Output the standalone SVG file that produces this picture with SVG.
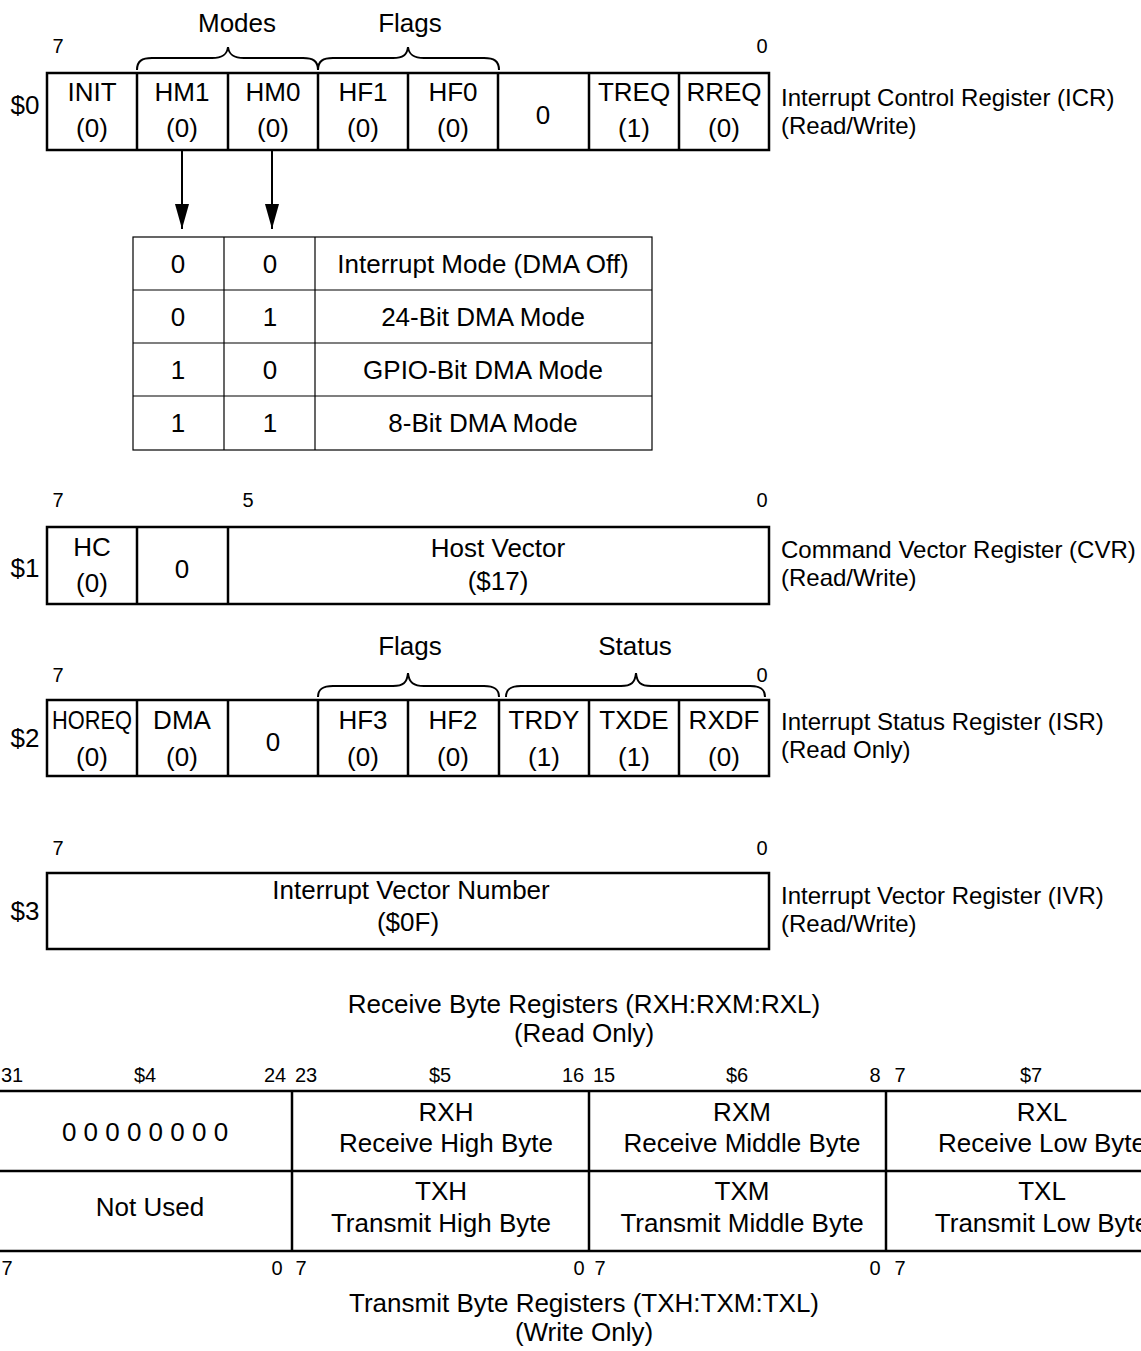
<svg xmlns="http://www.w3.org/2000/svg" width="1141" height="1351" viewBox="0 0 1141 1351">
<defs>
<style>
text{font-family:"Liberation Sans",Arial,sans-serif;fill:#000}
.c{font-size:26px;text-anchor:middle}
.b{font-size:20px;text-anchor:middle}
.l{font-size:24px}
.reg{fill:#fff;stroke:#000;stroke-width:2.5}
.div{stroke:#000;stroke-width:2.5}
.tb{fill:none;stroke:#000;stroke-width:1.2}
.brace{fill:none;stroke:#000;stroke-width:2}
.conn{stroke:#000;stroke-width:2;fill:none}
</style>
<marker id="ah" markerWidth="25" markerHeight="14" refX="25" refY="7" orient="auto" markerUnits="userSpaceOnUse" viewBox="0 0 25 14">
<path d="M0,0 L25,7 L0,14 Z" fill="#000"/>
</marker>
</defs>
<rect width="1141" height="1351" fill="#fff"/>

<!-- ICR -->
<g id="icr">
<text class="c" x="237" y="32">Modes</text>
<text class="c" x="410" y="32">Flags</text>
<path class="brace" d="M137,70 C137,61 142,58 152,58 L212,58 C222,58 227,55 228,47 C229,55 234,58 244,58 L303,58 C313,58 318,61 318,70"/>
<path class="brace" d="M318,70 C318,61 323,58 333,58 L393,58 C403,58 407,55 408,47 C409,55 414,58 424,58 L484,58 C494,58 499,61 499,70"/>
<text class="b" x="58" y="53">7</text>
<text class="b" x="762" y="53">0</text>
<text class="c" x="25" y="114">$0</text>
<rect class="reg" x="47" y="73" width="722" height="77"/>
<line class="div" x1="137" y1="73" x2="137" y2="150"/>
<line class="div" x1="228" y1="73" x2="228" y2="150"/>
<line class="div" x1="318" y1="73" x2="318" y2="150"/>
<line class="div" x1="408" y1="73" x2="408" y2="150"/>
<line class="div" x1="498" y1="73" x2="498" y2="150"/>
<line class="div" x1="589" y1="73" x2="589" y2="150"/>
<line class="div" x1="679" y1="73" x2="679" y2="150"/>
<text class="c" x="92" y="101">INIT</text><text class="c" x="92" y="137">(0)</text>
<text class="c" x="182" y="101">HM1</text><text class="c" x="182" y="137">(0)</text>
<text class="c" x="273" y="101">HM0</text><text class="c" x="273" y="137">(0)</text>
<text class="c" x="363" y="101">HF1</text><text class="c" x="363" y="137">(0)</text>
<text class="c" x="453" y="101">HF0</text><text class="c" x="453" y="137">(0)</text>
<text class="c" x="543" y="124">0</text>
<text class="c" x="634" y="101">TREQ</text><text class="c" x="634" y="137">(1)</text>
<text class="c" x="724" y="101">RREQ</text><text class="c" x="724" y="137">(0)</text>
<text class="l" x="781" y="106">Interrupt Control Register (ICR)</text>
<text class="l" x="781" y="134">(Read/Write)</text>
</g>

<!-- Mode table -->
<g id="mode-table">
<rect class="tb" x="133" y="237" width="519" height="213"/>
<line class="tb" x1="224" y1="237" x2="224" y2="450"/>
<line class="tb" x1="315" y1="237" x2="315" y2="450"/>
<line class="tb" x1="133" y1="290" x2="652" y2="290"/>
<line class="tb" x1="133" y1="343" x2="652" y2="343"/>
<line class="tb" x1="133" y1="396" x2="652" y2="396"/>
<text class="c" x="178" y="273">0</text><text class="c" x="270" y="273">0</text><text class="c" x="483" y="273">Interrupt Mode (DMA Off)</text>
<text class="c" x="178" y="326">0</text><text class="c" x="270" y="326">1</text><text class="c" x="483" y="326">24-Bit DMA Mode</text>
<text class="c" x="178" y="379">1</text><text class="c" x="270" y="379">0</text><text class="c" x="483" y="379">GPIO-Bit DMA Mode</text>
<text class="c" x="178" y="432">1</text><text class="c" x="270" y="432">1</text><text class="c" x="483" y="432">8-Bit DMA Mode</text>
</g>

<!-- CVR -->
<g id="cvr">
<text class="b" x="58" y="507">7</text>
<text class="b" x="248" y="507">5</text>
<text class="b" x="762" y="507">0</text>
<text class="c" x="25" y="577">$1</text>
<rect class="reg" x="47" y="527" width="722" height="77"/>
<line class="div" x1="137" y1="527" x2="137" y2="604"/>
<line class="div" x1="228" y1="527" x2="228" y2="604"/>
<text class="c" x="92" y="556">HC</text><text class="c" x="92" y="592">(0)</text>
<text class="c" x="182" y="578">0</text>
<text class="c" x="498" y="557">Host Vector</text><text class="c" x="498" y="590">($17)</text>
<text class="l" x="781" y="558">Command Vector Register (CVR)</text>
<text class="l" x="781" y="586">(Read/Write)</text>
</g>

<!-- ISR -->
<g id="isr">
<text class="c" x="410" y="655">Flags</text>
<text class="c" x="635" y="655">Status</text>
<path class="brace" d="M318,697 C318,689 323,686 333,686 L393,686 C403,686 407,683 408,673 C409,683 414,686 424,686 L484,686 C494,686 499,689 499,697"/>
<path class="brace" d="M506,697 C506,689 511,686 521,686 L621,686 C631,686 635,683 636,673 C637,683 641,686 651,686 L750,686 C760,686 765,689 765,697"/>
<text class="b" x="58" y="682">7</text>
<text class="b" x="762" y="682">0</text>
<text class="c" x="25" y="747">$2</text>
<rect class="reg" x="47" y="700" width="722" height="76"/>
<line class="div" x1="137" y1="700" x2="137" y2="776"/>
<line class="div" x1="228" y1="700" x2="228" y2="776"/>
<line class="div" x1="318" y1="700" x2="318" y2="776"/>
<line class="div" x1="408" y1="700" x2="408" y2="776"/>
<line class="div" x1="499" y1="700" x2="499" y2="776"/>
<line class="div" x1="589" y1="700" x2="589" y2="776"/>
<line class="div" x1="679" y1="700" x2="679" y2="776"/>
<text class="c" x="92" y="729" textLength="80" lengthAdjust="spacingAndGlyphs">HOREQ</text><text class="c" x="92" y="766">(0)</text>
<text class="c" x="182" y="729">DMA</text><text class="c" x="182" y="766">(0)</text>
<text class="c" x="273" y="751">0</text>
<text class="c" x="363" y="729">HF3</text><text class="c" x="363" y="766">(0)</text>
<text class="c" x="453" y="729">HF2</text><text class="c" x="453" y="766">(0)</text>
<text class="c" x="544" y="729">TRDY</text><text class="c" x="544" y="766">(1)</text>
<text class="c" x="634" y="729">TXDE</text><text class="c" x="634" y="766">(1)</text>
<text class="c" x="724" y="729">RXDF</text><text class="c" x="724" y="766">(0)</text>
<text class="l" x="781" y="730">Interrupt Status Register (ISR)</text>
<text class="l" x="781" y="758">(Read Only)</text>
</g>

<!-- IVR -->
<g id="ivr">
<text class="b" x="58" y="855">7</text>
<text class="b" x="762" y="855">0</text>
<text class="c" x="25" y="920">$3</text>
<rect class="reg" x="47" y="873" width="722" height="76"/>
<text class="c" x="411" y="899">Interrupt Vector Number</text>
<text class="c" x="408" y="931">($0F)</text>
<text class="l" x="781" y="904">Interrupt Vector Register (IVR)</text>
<text class="l" x="781" y="932">(Read/Write)</text>
</g>

<!-- Receive / Transmit byte registers -->
<g id="byte-registers">
<text class="c" x="584" y="1013">Receive Byte Registers (RXH:RXM:RXL)</text>
<text class="c" x="584" y="1042">(Read Only)</text>
<text class="b" x="12" y="1082">31</text>
<text class="b" x="145" y="1082">$4</text>
<text class="b" x="275" y="1082">24</text>
<text class="b" x="306" y="1082">23</text>
<text class="b" x="440" y="1082">$5</text>
<text class="b" x="573" y="1082">16</text>
<text class="b" x="604" y="1082">15</text>
<text class="b" x="737" y="1082">$6</text>
<text class="b" x="875" y="1082">8</text>
<text class="b" x="900" y="1082">7</text>
<text class="b" x="1031" y="1082">$7</text>
<line class="div" x1="0" y1="1091" x2="1141" y2="1091"/>
<line class="div" x1="0" y1="1171" x2="1141" y2="1171"/>
<line class="div" x1="0" y1="1251" x2="1141" y2="1251"/>
<line class="div" x1="292" y1="1091" x2="292" y2="1251"/>
<line class="div" x1="589" y1="1091" x2="589" y2="1251"/>
<line class="div" x1="886" y1="1091" x2="886" y2="1251"/>
<text class="c" x="145" y="1141">0 0 0 0 0 0 0 0</text>
<text class="c" x="150" y="1216">Not Used</text>
<text class="c" x="446" y="1121">RXH</text><text class="c" x="446" y="1152">Receive High Byte</text>
<text class="c" x="742" y="1121">RXM</text><text class="c" x="742" y="1152">Receive Middle Byte</text>
<text class="c" x="1042" y="1121">RXL</text><text class="c" x="1042" y="1152">Receive Low Byte</text>
<text class="c" x="441" y="1200">TXH</text><text class="c" x="441" y="1232">Transmit High Byte</text>
<text class="c" x="742" y="1200">TXM</text><text class="c" x="742" y="1232">Transmit Middle Byte</text>
<text class="c" x="1042" y="1200">TXL</text><text class="c" x="1042" y="1232">Transmit Low Byte</text>
<text class="b" x="7" y="1275">7</text>
<text class="b" x="277" y="1275">0</text>
<text class="b" x="301" y="1275">7</text>
<text class="b" x="579" y="1275">0</text>
<text class="b" x="600" y="1275">7</text>
<text class="b" x="875" y="1275">0</text>
<text class="b" x="900" y="1275">7</text>
<text class="c" x="584" y="1312">Transmit Byte Registers (TXH:TXM:TXL)</text>
<text class="c" x="584" y="1341">(Write Only)</text>
</g>

<!-- Connectors -->
<g id="connectors">
<line class="conn" x1="182" y1="151" x2="182" y2="229" marker-end="url(#ah)"/>
<line class="conn" x1="272" y1="151" x2="272" y2="229" marker-end="url(#ah)"/>
</g>
</svg>
